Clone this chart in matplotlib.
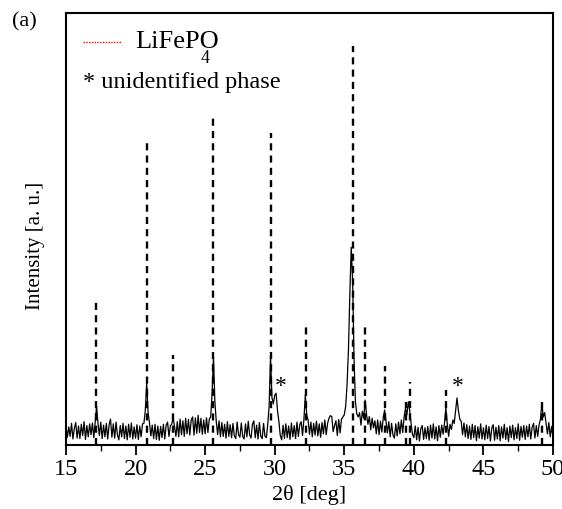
import matplotlib
matplotlib.use("Agg")
import matplotlib.pyplot as plt
import numpy as np

plt.rcParams['font.family'] = ['Liberation Serif', 'DejaVu Serif']

# measured pattern, 15.0 .. 50.0 deg in 0.1 deg steps (arb. units)
two_theta = np.round(np.arange(15.0, 50.01, 0.1), 1)
intensity = [
    4.6, 1.8, 4.2, 2.0, 5.0, 1.4, 3.8, 5.2, 1.6, 4.4,   # 15
    1.5, 4.8, 2.2, 5.4, 1.3, 4.5, 1.9, 4.9, 2.4, 5.1,   # 16
    1.7, 5.5, 9.0, 5.0, 2.2, 5.3, 1.5, 4.6, 1.9, 5.0,   # 17
    1.4, 4.7, 6.0, 1.8, 4.9, 1.6, 5.3, 2.3, 1.2, 4.5,   # 18
    1.9, 5.0, 1.5, 4.4, 1.2, 4.8, 1.8, 5.1, 1.4, 4.2,   # 19
    1.6, 4.7, 1.3, 4.4, 1.9, 4.9, 5.0, 8.0, 14.4, 7.5,  # 20
    5.2, 2.1, 4.6, 1.5, 4.8, 1.3, 4.4, 1.1, 4.3, 1.7,   # 21
    4.8, 1.4, 4.6, 5.3, 2.0, 4.5, 4.8, 6.3, 4.3, 2.0,   # 22
    5.4, 1.9, 6.0, 2.4, 5.6, 2.0, 6.2, 2.6, 5.9, 2.3,   # 23
    5.8, 6.5, 2.3, 6.3, 2.7, 6.9, 2.9, 6.2, 2.5, 5.8,   # 24
    2.6, 6.3, 2.9, 6.0, 6.5, 12.0, 20.4, 10.0, 5.5, 2.4,  # 25
    5.6, 1.9, 5.2, 2.0, 4.8, 1.6, 5.4, 2.0, 4.7, 1.7,   # 26
    5.0, 2.1, 1.5, 5.3, 2.4, 1.8, 5.1, 2.0, 1.4, 4.9,   # 27
    1.9, 5.5, 2.3, 1.6, 4.8, 5.6, 1.7, 4.6, 1.4, 5.2,   # 28
    2.0, 1.5, 5.0, 2.0, 1.7, 4.8, 9.0, 20.6, 11.0, 9.5,  # 29
    11.5, 12.0, 8.0, 5.5, 2.2, 1.2, 4.6, 1.5, 4.9, 1.7,  # 30
    4.4, 1.3, 5.1, 1.9, 4.5, 1.5, 5.3, 2.0, 4.7, 5.4,   # 31
    2.2, 6.0, 11.6, 7.0, 5.8, 2.5, 5.3, 1.9, 5.0, 2.3,  # 32
    5.5, 2.1, 4.9, 1.8, 5.2, 2.6, 5.8, 2.4, 5.0, 6.2,   # 33
    6.8, 6.6, 3.1, 4.5, 5.6, 2.2, 5.9, 2.8, 6.0, 6.5,   # 34
    7.0, 9.0, 14.0, 22.0, 35.0, 45.8, 38.0, 20.0, 10.0, 7.2,  # 35
    6.5, 7.5, 4.6, 7.8, 6.2, 10.4, 7.0, 4.8, 6.6, 3.5,  # 36
    6.2, 4.0, 5.6, 2.6, 5.8, 2.4, 5.5, 3.0, 6.4, 8.1,   # 37
    5.5, 2.8, 5.4, 1.9, 5.0, 2.3, 1.6, 4.9, 2.1, 5.3,   # 38
    2.6, 5.8, 2.9, 6.5, 8.5, 7.0, 10.0, 8.0, 5.0, 2.5,  # 39
    1.7, 4.4, 1.2, 4.1, 0.9, 3.8, 4.5, 1.3, 4.0, 1.5,   # 40
    4.3, 1.1, 4.6, 1.6, 4.9, 1.4, 4.2, 1.0, 4.5, 1.8,   # 41
    4.6, 2.5, 5.0, 8.6, 5.0, 2.0, 4.8, 3.6, 5.8, 5.0,   # 42
    8.0, 10.9, 8.0, 6.0, 5.5, 2.4, 5.1, 1.9, 4.7, 1.5,  # 43
    4.4, 1.3, 4.8, 1.7, 4.5, 1.0, 4.2, 1.6, 4.9, 1.4,   # 44
    4.0, 1.2, 4.6, 1.5, 4.3, 0.9, 3.9, 4.7, 1.1, 4.1,   # 45
    1.4, 4.5, 1.0, 4.2, 1.6, 4.8, 1.3, 4.0, 0.8, 4.4,   # 46
    1.7, 4.6, 1.2, 4.0, 1.5, 4.9, 1.1, 4.3, 1.8, 4.5,   # 47
    1.3, 4.4, 1.9, 4.8, 1.4, 4.1, 5.0, 1.6, 4.5, 2.0,   # 48
    4.7, 6.0, 9.7, 6.5, 7.5, 5.0, 2.6, 5.2, 1.9, 4.3,   # 49
    1.8,                                                # 50
]

# LiFePO4 reference reflections
ref_pos = [17.16, 20.8, 22.71, 25.55, 29.72, 32.24, 35.64, 36.52, 37.92,
           39.45, 39.75, 42.28, 49.22]
ref_height = [34.0, 70.1, 20.8, 76.6, 72.2, 27.5, 92.4, 27.5, 18.3,
              10.0, 14.6, 12.7, 10.0]

# unidentified phase markers
star_pos = [30.45, 43.17]
star_y = [12.3, 12.3]

fig = plt.figure(figsize=(5.62, 5.09), dpi=100)
ax = fig.add_axes([0.1174, 0.1257, 0.8666, 0.8488])

ax.vlines(ref_pos, 0, ref_height, colors='black', linewidth=1.7,
          linestyles=(0, (3, 2.2)))
ax.plot(two_theta, intensity, color='black', linewidth=0.9)

for xs, ys in zip(star_pos, star_y):
    ax.text(xs, ys, '*', fontsize=17, ha='center', va='baseline')

# legend drawn by hand
ax.plot([0.035, 0.115], [0.933, 0.933], transform=ax.transAxes,
        color='red', linestyle=(0, (1, 1)), linewidth=1.0)
ax.text(0.142, 0.933, 'LiFePO', transform=ax.transAxes, fontsize=19,
        va='center', ha='left')
ax.text(0.277, 0.895, '4', transform=ax.transAxes, fontsize=13,
        va='center', ha='left')
ax.text(0.035, 0.838, '* unidentified phase', transform=ax.transAxes,
        fontsize=17.5, va='center', ha='left')

ax.set_xlim(15, 50)
ax.set_ylim(0, 100)
ax.set_xticks([15, 20, 25, 30, 35, 40, 45, 50])
ax.set_xticks(np.arange(17.5, 50, 5), minor=True)
ax.set_yticks([])
ax.tick_params(axis='x', which='major', direction='out', length=7,
               width=1.3, labelsize=17.5, pad=3, top=False)
ax.tick_params(axis='x', which='minor', direction='out', length=4,
               width=1.0, top=False)
for s in ax.spines.values():
    s.set_linewidth(1.5)

ax.set_xlabel('2θ [deg]', fontsize=16, labelpad=4)
ax.set_ylabel('Intensity [a. u.]', fontsize=15)
ax.yaxis.set_label_coords(-0.043, 0.46)

fig.text(0.022, 0.957, '(a)', fontsize=16, va='center', ha='left')

fig.savefig('out.png', dpi=100)
